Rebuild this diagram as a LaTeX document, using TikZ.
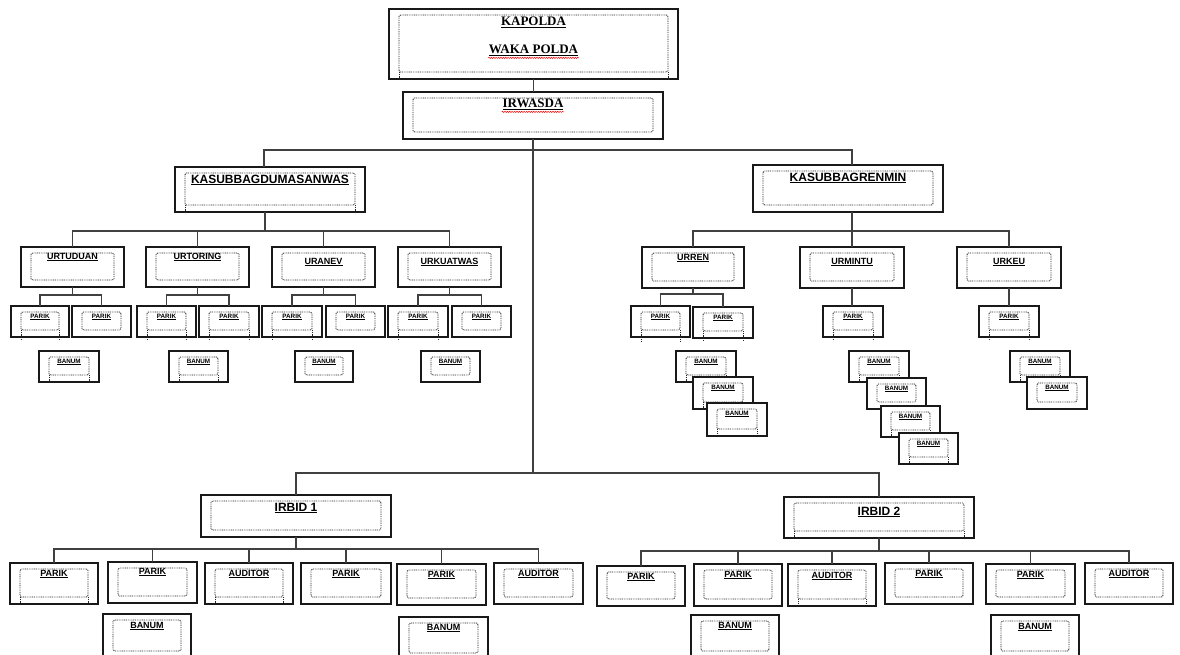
\documentclass[tikz,border=0pt]{standalone}
\usepackage{fontspec}
\setmainfont{Liberation Serif}
\setsansfont{Liberation Sans}
\usetikzlibrary{decorations.pathmorphing}
\newcommand\fser{\rmfamily\bfseries\fontsize{13}{15}\selectfont}
\newcommand\fbig{\sffamily\bfseries\fontsize{12}{14}\selectfont}
\newcommand\fmid{\sffamily\bfseries\fontsize{9}{11}\selectfont}
\newcommand\ftiny{\sffamily\bfseries\fontsize{6.3}{8}\selectfont}
\tikzset{
  obox/.style={draw=black!90, line width=1.4pt, fill=white, rectangle, inner sep=0pt, outer sep=0pt},
  ibox/.style={draw=black!85, line width=0.9pt, dash pattern=on 0.9pt off 0.9pt, rounded corners=1.5pt},
  lbl/.style={inner sep=0.5pt, text=black},
  conn/.style={draw=black!75, line width=1.3pt},
  wavy/.style={draw=red, line width=0.5pt, decorate, decoration={snake, amplitude=0.6pt, segment length=2.4pt}}
}
% #1 name, #2 x1, #3 y1, #4 x2, #5 y2, #6 font, #7 text, #8 text centre y
\newcommand\orgbox[8]{%
  \pgfmathsetmacro\obw{#4-#2}%
  \pgfmathsetmacro\obh{#5-#3}%
  \pgfmathsetmacro\obcx{(#2+#4)/2}%
  \pgfmathsetmacro\obcy{(#3+#5)/2}%
  \node[obox, minimum width=\obw pt, minimum height=\obh pt] (#1) at (\obcx,\obcy) {};%
  \draw[ibox] (#2+10,#3+6) rectangle (#4-10,#5-7);%
  \coordinate (#1-ibl) at (#2+10,#5-7);%
  \coordinate (#1-ibr) at (#4-10,#5-7);%
  \node[lbl, font=#6] (#1-t) at (\obcx,#8) {\underline{#7}};%
}
\newcommand\dotext[2]{%
  \draw[ibox, rounded corners=0pt] (#1-ibl) -- ++(0,#2);%
  \draw[ibox, rounded corners=0pt] (#1-ibr) -- ++(0,#2);%
}
\begin{document}
\begin{tikzpicture}[x=1pt, y=-1pt]
\useasboundingbox (0,0) rectangle (1180,655);
\fill[white] (0,0) rectangle (1180,655);

% ---- top ----
\orgbox{kapolda}{389}{9}{678}{79}{\fser}{KAPOLDA}{22}
\node[lbl, font=\fser] (waka) at (533.5,50) {\underline{WAKA POLDA}};
\dotext{kapolda}{8}
\draw[wavy] ([yshift=-1.8pt]waka.south west) -- ([yshift=-1.8pt]waka.south east);
\orgbox{irwasda}{403}{92}{663}{139}{\fser}{IRWASDA}{104}
\draw[wavy] ([yshift=-1.8pt]irwasda-t.south west) -- ([yshift=-1.8pt]irwasda-t.south east);

% ---- level 2 ----
\orgbox{kasd}{175}{167}{365}{212}{\fbig}{KASUBBAGDUMASANWAS}{180}
\dotext{kasd}{9}
\orgbox{kasr}{753}{165}{943}{212}{\fbig}{KASUBBAGRENMIN}{178}

% ---- UR row ----
\orgbox{urtud}{21}{247}{124}{287}{\fmid}{URTUDUAN}{257}
\orgbox{urtor}{146}{247}{249}{287}{\fmid}{URTORING}{257}
\orgbox{uranev}{272}{247}{375}{287}{\fmid}{URANEV}{262}
\orgbox{urkuat}{398}{247}{501}{287}{\fmid}{URKUATWAS}{262}
\orgbox{urren}{642}{247}{744}{288}{\fmid}{URREN}{258}
\orgbox{urmin}{800}{247}{904}{288}{\fmid}{URMINTU}{262}
\orgbox{urkeu}{957}{247}{1061}{288}{\fmid}{URKEU}{262}

% ---- small PARIK row ----
\orgbox{pa1}{11}{306}{69}{337}{\ftiny}{PARIK}{317}
\orgbox{pa2}{72}{306}{131}{337}{\ftiny}{PARIK}{317}
\orgbox{pa3}{137}{306}{196}{337}{\ftiny}{PARIK}{317}
\orgbox{pa4}{199}{306}{259}{337}{\ftiny}{PARIK}{317}
\orgbox{pa5}{262}{306}{322}{337}{\ftiny}{PARIK}{317}
\orgbox{pa6}{326}{306}{385}{337}{\ftiny}{PARIK}{317}
\orgbox{pa7}{388}{306}{448}{337}{\ftiny}{PARIK}{317}
\orgbox{pa8}{452}{306}{511}{337}{\ftiny}{PARIK}{317}
\orgbox{pa9}{631}{306}{690}{337}{\ftiny}{PARIK}{317}
\orgbox{pa10}{693}{307}{753}{338}{\ftiny}{PARIK}{318}
\orgbox{pa11}{823}{306}{883}{337}{\ftiny}{PARIK}{317}
\orgbox{pa12}{979}{306}{1039}{337}{\ftiny}{PARIK}{317}
\dotext{pa1}{10}\dotext{pa3}{10}\dotext{pa4}{10}\dotext{pa5}{10}
\dotext{pa7}{10}\dotext{pa9}{12}\dotext{pa10}{10}\dotext{pa11}{10}\dotext{pa12}{10}

% ---- small BANUM ----
\orgbox{ba1}{39}{351}{99}{382}{\ftiny}{BANUM}{362}
\orgbox{ba2}{169}{351}{228}{382}{\ftiny}{BANUM}{362}
\orgbox{ba3}{295}{351}{353}{382}{\ftiny}{BANUM}{362}
\orgbox{ba4}{421}{351}{480}{382}{\ftiny}{BANUM}{362}
\dotext{ba1}{8}\dotext{ba2}{8}
\orgbox{ba5}{676}{351}{736}{382}{\ftiny}{BANUM}{362}
\dotext{ba5}{8}
\orgbox{ba6}{693}{377}{753}{409}{\ftiny}{BANUM}{388}
\dotext{ba6}{8}
\orgbox{ba7}{707}{403}{767}{436}{\ftiny}{BANUM}{414}
\dotext{ba7}{4}
\orgbox{ba8}{849}{351}{909}{382}{\ftiny}{BANUM}{362}
\dotext{ba8}{8}
\orgbox{ba9}{867}{378}{926}{409}{\ftiny}{BANUM}{389}
\orgbox{ba10}{881}{406}{940}{437}{\ftiny}{BANUM}{417}
\dotext{ba10}{8}
\orgbox{ba11}{899}{433}{958}{464}{\ftiny}{BANUM}{444}
\dotext{ba11}{6}
\orgbox{ba12}{1010}{351}{1070}{382}{\ftiny}{BANUM}{362}
\dotext{ba12}{6}
\orgbox{ba13}{1027}{377}{1087}{409}{\ftiny}{BANUM}{388}

% ---- IRBID ----
\orgbox{irbid1}{201}{495}{391}{537}{\fbig}{IRBID 1}{508}
\orgbox{irbid2}{784}{497}{974}{538}{\fbig}{IRBID 2}{512}
\dotext{irbid2}{6}

\orgbox{b1}{10}{563}{98}{604}{\fmid}{PARIK}{574}
\orgbox{b2}{108}{562}{197}{603}{\fmid}{PARIK}{572}
\orgbox{b3}{205}{563}{293}{604}{\fmid}{AUDITOR}{574}
\orgbox{b4}{301}{563}{391}{604}{\fmid}{PARIK}{574}
\orgbox{b5}{397}{564}{486}{605}{\fmid}{PARIK}{575}
\orgbox{b6}{494}{563}{583}{604}{\fmid}{AUDITOR}{574}
\dotext{b1}{6}\dotext{b3}{7}
\orgbox{c1}{597}{566}{685}{606}{\fmid}{PARIK}{577}
\orgbox{c2}{694}{564}{782}{606}{\fmid}{PARIK}{575}
\orgbox{c3}{788}{564}{876}{606}{\fmid}{AUDITOR}{576}
\orgbox{c4}{885}{563}{973}{604}{\fmid}{PARIK}{574}
\orgbox{c5}{986}{564}{1075}{604}{\fmid}{PARIK}{575}
\orgbox{c6}{1085}{563}{1173}{604}{\fmid}{AUDITOR}{574}
\dotext{c3}{4}

\orgbox{bb1}{103}{614}{191}{658}{\fmid}{BANUM}{626}
\orgbox{bb2}{399}{617}{488}{660}{\fmid}{BANUM}{628}
\orgbox{bb3}{691}{615}{779}{658}{\fmid}{BANUM}{626}
\orgbox{bb4}{991}{615}{1079}{658}{\fmid}{BANUM}{627}

% ---- connectors ----
\coordinate (jt) at (533,150);
\coordinate (jb) at (533,473);
\draw[conn] (kapolda.south) -- (kapolda.south |- irwasda.north);
\draw[conn] (irwasda.south) -- (irwasda.south |- jb);
\draw[conn] ([xshift=-6pt]kasd.north) |- (jt) -| ([xshift=4pt]kasr.north);
\draw[conn] (irbid1.north) |- (jb) -| (irbid2.north);

\coordinate (bl) at (265,231);
\draw[conn] ([xshift=-5pt]kasd.south) -- (bl);
\draw[conn] (urtud.north) |- (bl) -| (urkuat.north);
\draw[conn] (urtor.north) -- (urtor.north |- bl);
\draw[conn] (uranev.north) -- (uranev.north |- bl);

\coordinate (br) at (852,231);
\draw[conn] ([xshift=4pt]kasr.south) -- (br);
\draw[conn] (urren.north) |- (br) -| (urkeu.north);
\draw[conn] (urmin.north) -- (urmin.north |- br);

\path (urtud.south) ++(0,8) coordinate (u1);
\draw[conn] (urtud.south) -- (u1);
\draw[conn] (pa1.north) |- (u1) -| (pa2.north);
\path (urtor.south) ++(0,8) coordinate (u2);
\draw[conn] (urtor.south) -- (u2);
\draw[conn] (pa3.north) |- (u2) -| (pa4.north);
\path (uranev.south) ++(0,8) coordinate (u3);
\draw[conn] (uranev.south) -- (u3);
\draw[conn] (pa5.north) |- (u3) -| (pa6.north);
\path (urkuat.south) ++(0,8) coordinate (u4);
\draw[conn] (urkuat.south) -- (u4);
\draw[conn] (pa7.north) |- (u4) -| (pa8.north);
\path (urren.south) ++(0,6) coordinate (u5);
\draw[conn] (urren.south) -- (u5);
\draw[conn] (pa9.north) |- (u5) -| (pa10.north);
\draw[conn] (urmin.south) -- (urmin.south |- pa11.north);
\draw[conn] (urkeu.south) -- (urkeu.south |- pa12.north);

\path (irbid1.south) ++(0,12) coordinate (i1);
\draw[conn] (irbid1.south) -- (i1);
\draw[conn] (b1.north) |- (i1) -| (b6.north);
\foreach \n in {b2,b3,b4,b5} {\draw[conn] (\n.north) -- (\n.north |- i1);}
\path (irbid2.south) ++(0,13) coordinate (i2);
\draw[conn] (irbid2.south) -- (i2);
\draw[conn] (c1.north) |- (i2) -| (c6.north);
\foreach \n in {c2,c3,c4,c5} {\draw[conn] (\n.north) -- (\n.north |- i2);}
\end{tikzpicture}
\end{document}
